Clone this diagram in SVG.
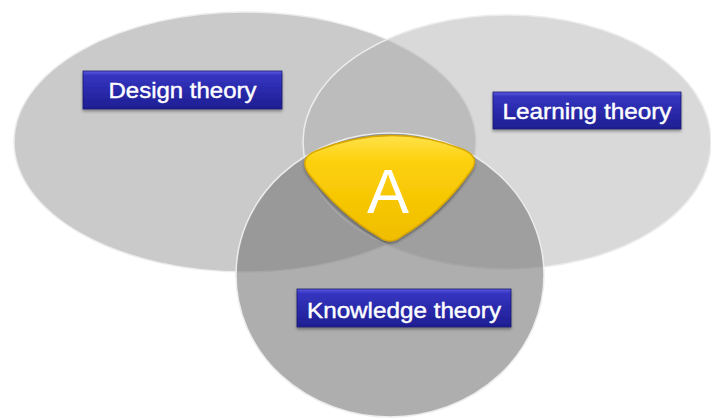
<svg xmlns="http://www.w3.org/2000/svg" width="711" height="419" viewBox="0 0 711 419">
<defs>
<linearGradient id="blue" x1="0" y1="0" x2="0" y2="1">
<stop offset="0" stop-color="#5a5ae0"/>
<stop offset="0.12" stop-color="#3434c0"/>
<stop offset="1" stop-color="#1e1e92"/>
</linearGradient>
<linearGradient id="gold" x1="0" y1="0" x2="0" y2="1">
<stop offset="0" stop-color="#ffe24a"/>
<stop offset="0.25" stop-color="#fcd00a"/>
<stop offset="1" stop-color="#f0bd00"/>
</linearGradient>
<filter id="sh" x="-10%" y="-10%" width="120%" height="130%">
<feDropShadow dx="0" dy="2" stdDeviation="1.5" flood-color="#000" flood-opacity="0.35"/>
</filter>
</defs>
<style>
.set{stroke:#ececec;stroke-width:1.5}
.lbl{fill:url(#blue);stroke:#1a1a6e;stroke-width:0.8}
.txt{font-family:"Liberation Sans",Arial,sans-serif;font-size:22px;fill:#ffffff;stroke:#ffffff;stroke-width:0.4;text-anchor:middle}
</style>
<rect width="711" height="419" fill="#ffffff"/>
<g id="design-set">
<ellipse class="set" cx="245" cy="142" rx="231" ry="130" fill="#969696" fill-opacity="0.5"/>
</g>
<g id="learning-set">
<ellipse class="set" cx="507" cy="142" rx="204" ry="127" fill="#aaaaaa" fill-opacity="0.45"/>
</g>
<g id="knowledge-set">
<ellipse class="set" cx="390" cy="275" rx="154" ry="142" fill="#787878" fill-opacity="0.6"/>
</g>
<g id="center-a">
<path d="M 316,151 Q 390,121 462,149 Q 482,157 470,172 Q 440,214 402,236 Q 390,246 378,236 Q 340,214 309,174 Q 298,158 316,151 Z" fill="url(#gold)" stroke="#d8a800" stroke-width="1.5" filter="url(#sh)"/>
<text x="388" y="213" font-family="'Liberation Sans',Arial,sans-serif" font-size="63" fill="#ffffff" text-anchor="middle">A</text>
</g>
<g id="design-label">
<rect class="lbl" x="83" y="71" width="199" height="38" filter="url(#sh)"/>
<text class="txt" x="182.5" y="97.5" textLength="148" lengthAdjust="spacingAndGlyphs">Design theory</text>
</g>
<g id="learning-label">
<rect class="lbl" x="493" y="92" width="188" height="37" filter="url(#sh)"/>
<text class="txt" x="587" y="118.5" textLength="169" lengthAdjust="spacingAndGlyphs">Learning theory</text>
</g>
<g id="knowledge-label">
<rect class="lbl" x="297" y="289" width="214" height="38" filter="url(#sh)"/>
<text class="txt" x="404" y="317.5" textLength="194" lengthAdjust="spacingAndGlyphs">Knowledge theory</text>
</g>
<g id="connectors"></g>
</svg>
